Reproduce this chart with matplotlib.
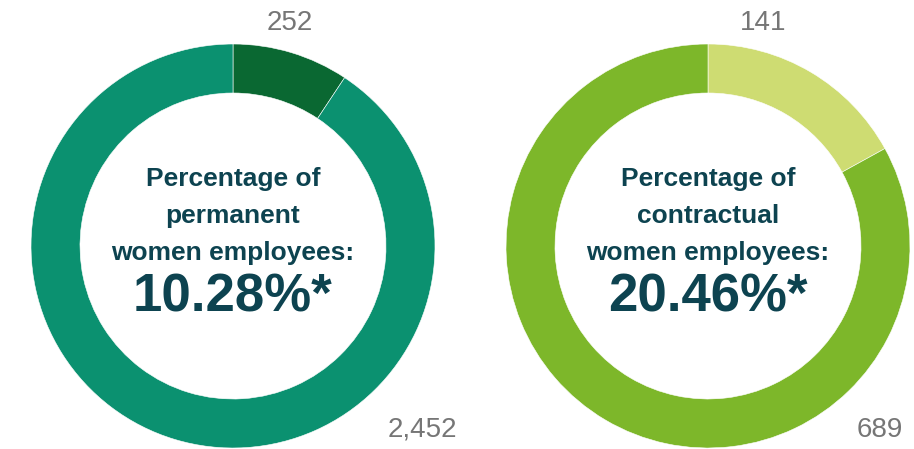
import matplotlib
matplotlib.use("Agg")
import matplotlib.pyplot as plt

# Women employees vs. the rest, per contract type
permanent_counts = [252, 2452]
permanent_labels = ["252", "2,452"]
permanent_colors = ["#0A6832", "#0B9170"]
permanent_text = ["Percentage of", "permanent", "women employees:"]
permanent_pct = "10.28%*"

contract_counts = [141, 689]
contract_labels = ["141", "689"]
contract_colors = ["#CEDC72", "#7DB72A"]
contract_text = ["Percentage of", "contractual", "women employees:"]
contract_pct = "20.46%*"

W, H = 914, 449
TEXT_DARK = "#0D4350"
LABEL_GREY = "#767676"

fig = plt.figure(figsize=(W / 100, H / 100), dpi=100)
ax = fig.add_axes([0, 0, 1, 1])
ax.set_xlim(0, W)
ax.set_ylim(0, H)
ax.set_aspect("equal")
ax.axis("off")


def donut(cx, cy, counts, colors, labels, lines, pct, small_pos, big_pos):
    R = 202
    ax.pie(counts, colors=colors, center=(cx, cy), radius=R,
           startangle=90, counterclock=False,
           wedgeprops=dict(width=49, edgecolor="white", linewidth=0.4))
    for i, line in enumerate(lines):
        ax.text(cx, cy + 67 - i * 37, line, ha="center", va="center",
                fontsize=19, fontweight="bold", color=TEXT_DARK,
                family="Liberation Sans")
    ax.text(cx, cy - 51, pct, ha="center", va="center", fontsize=38,
            fontweight="bold", color=TEXT_DARK, family="Liberation Sans")
    ax.text(*small_pos, labels[0], ha="center", va="center", fontsize=20,
            color=LABEL_GREY, family="Liberation Sans")
    ax.text(*big_pos, labels[1], ha="center", va="center", fontsize=20,
            color=LABEL_GREY, family="Liberation Sans")


donut(233, H - 246, permanent_counts, permanent_colors, permanent_labels,
      permanent_text, permanent_pct, (290, H - 23), (422, H - 430))
donut(708, H - 246, contract_counts, contract_colors, contract_labels,
      contract_text, contract_pct, (763, H - 23), (880, H - 430))

ax.set_xlim(0, W)
ax.set_ylim(0, H)
fig.savefig("out.png", dpi=100)
